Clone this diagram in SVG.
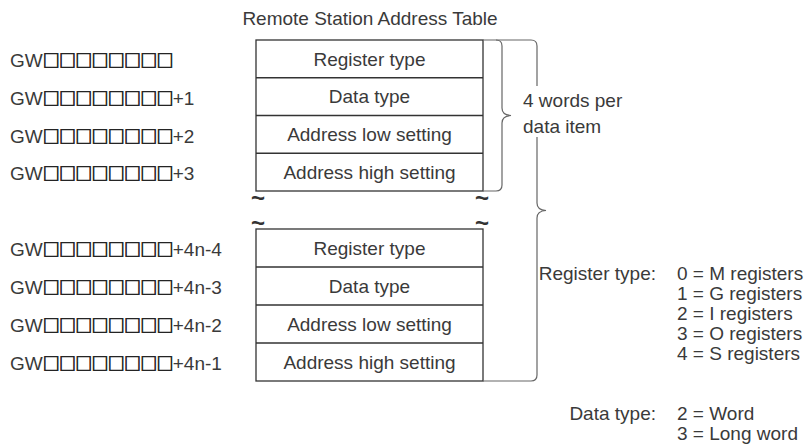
<svg xmlns="http://www.w3.org/2000/svg" width="808" height="447" viewBox="0 0 808 447">
<style>
text{font-family:"Liberation Sans",Arial,sans-serif;font-size:19px;fill:#3a3a3a}
.c{text-anchor:middle}
.r{text-anchor:end}
.sq{font-family:"Noto Sans CJK JP",sans-serif;font-size:17px;letter-spacing:-0.75px;font-weight:bold;fill:#1a1a1a;stroke:#1a1a1a;stroke-width:0.6}
.tbl{fill:#fff;stroke:#333;stroke-width:1.3}
.ln{stroke:#333;stroke-width:1.3;fill:none}
.br{stroke:#666;stroke-width:1.2;fill:none}
.til{font-size:24px;font-weight:bold;fill:#333;text-anchor:middle}
</style>
<rect width="808" height="447" fill="#fff"/>
<text class="c" x="370" y="25">Remote Station Address Table</text>

<g id="labels">
<text x="10" y="67">GW<tspan class="sq">□□□□□□□□</tspan></text>
<text x="10" y="104.5">GW<tspan class="sq">□□□□□□□□</tspan>+1</text>
<text x="10" y="142.5">GW<tspan class="sq">□□□□□□□□</tspan>+2</text>
<text x="10" y="180">GW<tspan class="sq">□□□□□□□□</tspan>+3</text>
<text x="10" y="255.5">GW<tspan class="sq">□□□□□□□□</tspan>+4n-4</text>
<text x="10" y="293.5">GW<tspan class="sq">□□□□□□□□</tspan>+4n-3</text>
<text x="10" y="331.5">GW<tspan class="sq">□□□□□□□□</tspan>+4n-2</text>
<text x="10" y="369.5">GW<tspan class="sq">□□□□□□□□</tspan>+4n-1</text>
</g>

<g id="table-top">
<rect class="tbl" x="256" y="40" width="227" height="151"/>
<line class="ln" x1="256" y1="77.75" x2="483" y2="77.75"/>
<line class="ln" x1="256" y1="115.5" x2="483" y2="115.5"/>
<line class="ln" x1="256" y1="153.25" x2="483" y2="153.25"/>
<text class="c" x="369.5" y="65.5">Register type</text>
<text class="c" x="369.5" y="103">Data type</text>
<text class="c" x="369.5" y="141">Address low setting</text>
<text class="c" x="369.5" y="178.5">Address high setting</text>
</g>

<g id="breaks">
<text class="til" x="258" y="206">~</text>
<text class="til" x="482" y="206">~</text>
<text class="til" x="258" y="231">~</text>
<text class="til" x="482" y="231">~</text>
</g>

<g id="table-bottom">
<rect class="tbl" x="256" y="229" width="227" height="152"/>
<line class="ln" x1="256" y1="267" x2="483" y2="267"/>
<line class="ln" x1="256" y1="305" x2="483" y2="305"/>
<line class="ln" x1="256" y1="343" x2="483" y2="343"/>
<text class="c" x="369.5" y="254.5">Register type</text>
<text class="c" x="369.5" y="292.5">Data type</text>
<text class="c" x="369.5" y="330.5">Address low setting</text>
<text class="c" x="369.5" y="368.5">Address high setting</text>
</g>

<g id="connectors">
<path class="br" d="M483,40 H496 Q502,40 502,46 V108 Q502,115 511,115.5 Q502,116 502,123 V185 Q502,191 496,191 H483"/>
<path class="br" d="M496,40 H531 Q537,40 537,46 V86"/>
<path class="br" d="M537,137 V203 Q537,210 546,210.5 Q537,211 537,218 V375 Q537,381 531,381 H483"/>
</g>

<g id="notes">
<text x="523" y="107">4 words per</text>
<text x="523" y="133">data item</text>
<text class="r" x="656" y="280">Register type:</text>
<text x="677" y="280">0 = M registers</text>
<text x="677" y="300">1 = G registers</text>
<text x="677" y="320">2 = I registers</text>
<text x="677" y="340">3 = O registers</text>
<text x="677" y="360">4 = S registers</text>
<text class="r" x="656" y="420">Data type:</text>
<text x="677" y="420">2 = Word</text>
<text x="677" y="440">3 = Long word</text>
</g>
</svg>
